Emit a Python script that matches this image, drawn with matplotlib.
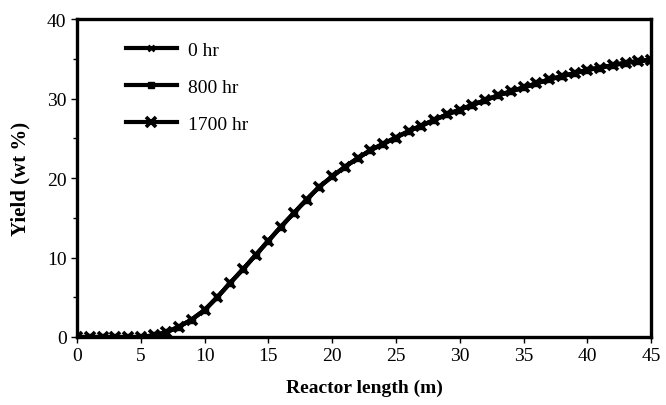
import matplotlib
matplotlib.use('Agg')
import matplotlib.pyplot as plt
from matplotlib.ticker import MultipleLocator

plt.rcParams['font.family'] = ['Liberation Serif', 'DejaVu Serif']

# reactor length (m), one point per metre
length_m = list(range(0, 46))
# yield (wt %); all three curves coincide
yield_0hr = [0, 0, 0, 0, 0, 0, 0.2, 0.6, 1.3, 2.2,
             3.4, 5.0, 6.8, 8.5, 10.3, 12.1, 13.9, 15.6, 17.3, 18.9,
             20.2, 21.4, 22.5, 23.5, 24.3, 25.1, 25.9, 26.6, 27.3, 28.0,
             28.6, 29.2, 29.8, 30.4, 30.9, 31.4, 31.9, 32.4, 32.8, 33.2,
             33.6, 33.9, 34.2, 34.5, 34.7, 34.9]
yield_800hr = list(yield_0hr)
yield_1700hr = list(yield_0hr)

fig = plt.figure(figsize=(6.66, 4.06), dpi=100)
ax = fig.add_axes([0.1156, 0.1675, 0.862, 0.783])

ax.plot(length_m, yield_0hr, 'k-', marker='x', ms=4.5, mew=1.8, lw=3, label='0 hr')
ax.plot(length_m, yield_800hr, 'k-', marker='s', ms=4, lw=3, label='800 hr')
ax.plot(length_m, yield_1700hr, 'k-', marker='x', ms=7.5, mew=2.6, lw=3, label='1700 hr')

ax.set_xlim(0, 45)
ax.set_ylim(0, 40)
ax.xaxis.set_major_locator(MultipleLocator(5))
ax.yaxis.set_major_locator(MultipleLocator(10))
ax.yaxis.set_minor_locator(MultipleLocator(5))
ax.tick_params(which='both', direction='out', width=1, labelsize=14, colors='black')
ax.tick_params(which='major', length=4)
ax.tick_params(which='minor', length=3)
for s in ax.spines.values():
    s.set_linewidth(2.4)

ax.set_xlabel('Reactor length (m)', fontsize=14, fontweight='bold', labelpad=10)
ax.set_ylabel('Yield (wt %)', fontsize=15, fontweight='bold', labelpad=12)

leg = ax.legend(loc='upper left', frameon=False, fontsize=14, handlelength=2.6,
                labelspacing=1.0, bbox_to_anchor=(0.055, 0.985), handletextpad=0.6)

fig.savefig('out.png', dpi=100)
